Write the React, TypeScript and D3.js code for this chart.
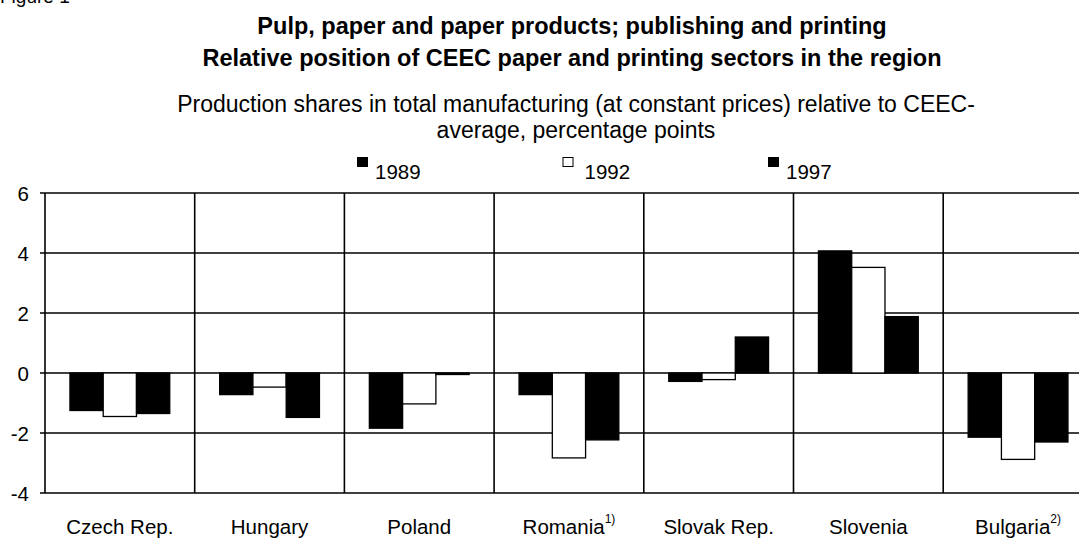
import { useEffect, useRef } from "react";
import * as d3 from "d3";

const categories = [
  "Czech Rep.",
  "Hungary",
  "Poland",
  "Romania",
  "Slovak Rep.",
  "Slovenia",
  "Bulgaria",
];
const footnotes = ["", "", "", "1)", "", "", "2)"];
const years = ["1989", "1992", "1997"];
const values1989 = [-1.25, -0.72, -1.84, -0.72, -0.28, 4.07, -2.14];
const values1992 = [-1.45, -0.47, -1.03, -2.83, -0.22, 3.52, -2.88];
const values1997 = [-1.35, -1.48, -0.05, -2.23, 1.2, 1.88, -2.3];
const yTicks = [-4, -2, 0, 2, 4, 6];

const FONT = "'Liberation Sans', Arial, Helvetica, sans-serif";

export default function App() {
  const svgRef = useRef<SVGSVGElement>(null);

  const dims = {
    width: 1079,
    height: 538,
    left: 45,
    top: 193,
    bottom: 493,
    bandStep: 149.7,
  };

  useEffect(() => {
    const svg = d3.select(svgRef.current);
    svg.selectAll("*").remove();

    const series = [values1989, values1992, values1997];
    const fills = ["#000", "#fff", "#000"];

    const x = d3
      .scaleBand()
      .domain(categories)
      .range([dims.left, dims.left + dims.bandStep * categories.length])
      .padding(0);
    const bw = x.bandwidth();
    const x1 = d3
      .scaleBand()
      .domain(years)
      .range([bw / 6, (bw * 5) / 6])
      .padding(0);
    const y = d3.scaleLinear().domain([-4, 6]).range([dims.bottom, dims.top]);

    svg
      .append("rect")
      .attr("width", dims.width)
      .attr("height", dims.height)
      .attr("fill", "white");

    // titles
    svg
      .append("text")
      .attr("x", 0)
      .attr("y", 3)
      .attr("font-size", 19)
      .attr("font-family", FONT)
      .text("Figure 1");

    const titles = [
      "Pulp, paper and paper products; publishing and printing",
      "Relative position of CEEC paper and printing sectors in the region",
    ];
    svg
      .append("g")
      .selectAll("text")
      .data(titles)
      .enter()
      .append("text")
      .attr("x", 572)
      .attr("y", (_, i) => 34 + i * 32)
      .attr("text-anchor", "middle")
      .attr("font-size", 23.5)
      .attr("font-weight", "bold")
      .attr("font-family", FONT)
      .text((d) => d);

    const subtitles = [
      "Production shares in total manufacturing (at constant prices) relative to CEEC-",
      "average, percentage points",
    ];
    svg
      .append("g")
      .selectAll("text")
      .data(subtitles)
      .enter()
      .append("text")
      .attr("x", 576)
      .attr("y", (_, i) => 112 + i * 26)
      .attr("text-anchor", "middle")
      .attr("font-size", 23)
      .attr("font-family", FONT)
      .text((d) => d);

    // legend
    const lx = d3.scaleLinear().domain([0, 2]).range([357, 768]);
    const legend = svg
      .append("g")
      .selectAll("g")
      .data(years)
      .enter()
      .append("g")
      .attr("transform", (_, i) => `translate(${lx(i)},0)`);
    legend
      .append("rect")
      .attr("x", 0.5)
      .attr("y", 157.5)
      .attr("width", 10)
      .attr("height", 9)
      .attr("fill", (_, i) => fills[i])
      .attr("stroke", "#000")
      .attr("stroke-width", 1);
    legend
      .append("text")
      .attr("x", (_, i) => (i === 1 ? 22 : 18))
      .attr("y", 179)
      .attr("font-size", 20.5)
      .attr("font-family", FONT)
      .text((d) => d);

    // grid
    svg
      .append("g")
      .selectAll("line")
      .data(yTicks)
      .enter()
      .append("line")
      .attr("x1", dims.left - 5)
      .attr("x2", dims.width)
      .attr("y1", (d) => y(d))
      .attr("y2", (d) => y(d))
      .attr("stroke", "#000")
      .attr("stroke-width", 1.6);

    svg
      .append("g")
      .selectAll("line")
      .data(categories)
      .enter()
      .append("line")
      .attr("x1", (d) => x(d)!)
      .attr("x2", (d) => x(d)!)
      .attr("y1", y(6))
      .attr("y2", y(-4))
      .attr("stroke", "#000")
      .attr("stroke-width", 1.6);

    svg
      .append("g")
      .selectAll("text")
      .data(yTicks)
      .enter()
      .append("text")
      .attr("x", 29)
      .attr("y", (d) => y(d) + 7.5)
      .attr("text-anchor", "end")
      .attr("font-size", 20.5)
      .attr("font-family", FONT)
      .text((d) => d);

    // bars
    series.forEach((vals, si) => {
      svg
        .append("g")
        .selectAll("rect")
        .data(vals)
        .enter()
        .append("rect")
        .attr("x", (_, i) => x(categories[i])! + x1(years[si])!)
        .attr("y", (d) => y(Math.max(0, d)))
        .attr("width", x1.bandwidth())
        .attr("height", (d) => Math.abs(y(d) - y(0)))
        .attr("fill", fills[si])
        .attr("stroke", "#000")
        .attr("stroke-width", 1.3);
    });

    // category labels
    const labels = svg
      .append("g")
      .selectAll("text")
      .data(categories)
      .enter()
      .append("text")
      .attr("x", (d) => x(d)! + bw / 2)
      .attr("y", 534)
      .attr("text-anchor", "middle")
      .attr("font-size", 20.5)
      .attr("font-family", FONT);
    labels.append("tspan").text((d) => d);
    labels
      .append("tspan")
      .attr("dy", -11)
      .attr("font-size", 12)
      .text((_, i) => footnotes[i]);
  }, []);

  return (
    <svg
      ref={svgRef}
      width={dims.width}
      height={dims.height}
      style={{ position: "absolute", left: 0, top: 0 }}
    ></svg>
  );
}
